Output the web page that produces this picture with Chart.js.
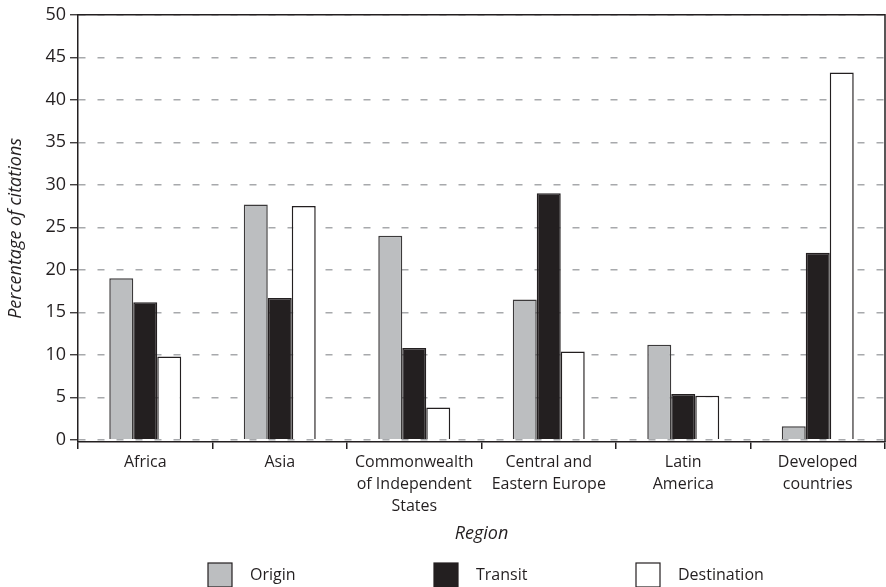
<!DOCTYPE html>
<html>
<head>
<meta charset="utf-8">
<script src="https://cdn.jsdelivr.net/npm/chart.js@4/dist/chart.umd.min.js"></script>
<style>
  html, body { margin: 0; padding: 0; background: #fff; }
  #wrap { width: 886px; height: 587px; position: relative; }
</style>
</head>
<body>
<div id="wrap"><canvas id="c" width="886" height="587"></canvas></div>
<script>
const categories = [
  'Africa',
  'Asia',
  ['Commonwealth', 'of Independent', 'States'],
  ['Central and', 'Eastern Europe'],
  ['Latin', 'America'],
  ['Developed', 'countries']
];
const origin      = [19.0, 27.7, 24.0, 16.5, 11.2, 1.6];
const transit     = [16.2, 16.7, 10.8, 29.0, 5.4, 22.0];
const destination = [9.8, 27.5, 3.8, 10.4, 5.2, 43.2];
const yTicks = [0, 5, 10, 15, 20, 25, 30, 35, 40, 45, 50];

const TEXT = '#231f20';
const FONT = "'Open Sans', 'DejaVu Sans', sans-serif";

const framePlugin = {
  id: 'frame',
  afterDraw(chart) {
    const {ctx, chartArea: a} = chart;
    ctx.save();
    ctx.strokeStyle = TEXT;
    ctx.lineWidth = 1.5;
    ctx.beginPath();
    ctx.moveTo(a.left, a.top);
    ctx.lineTo(a.right, a.top);
    ctx.lineTo(a.right, a.bottom);
    ctx.stroke();
    ctx.restore();
  }
};

const legendPlugin = {
  id: 'customLegend',
  afterDraw(chart, args, opts) {
    const ctx = chart.ctx;
    ctx.save();
    ctx.font = "16px " + FONT;
    ctx.textBaseline = 'middle';
    ctx.fillStyle = TEXT;
    chart.data.datasets.forEach((ds, i) => {
      const x = opts.xs[i];
      const y = opts.y;
      ctx.fillStyle = ds.backgroundColor;
      ctx.fillRect(x, y, opts.box, opts.box);
      ctx.strokeStyle = TEXT;
      ctx.lineWidth = 1.2;
      ctx.strokeRect(x, y, opts.box, opts.box);
      ctx.fillStyle = TEXT;
      ctx.fillText(ds.label, x + opts.box + 18, y + opts.box / 2);
    });
    ctx.restore();
  }
};

new Chart(document.getElementById('c'), {
  type: 'bar',
  data: {
    labels: categories,
    datasets: [
      { label: 'Origin', data: origin, backgroundColor: '#bcbec0', borderColor: '#3c3a3b', borderWidth: 1.5 },
      { label: 'Transit', data: transit, backgroundColor: '#231f20', borderColor: '#231f20', borderWidth: 1.5 },
      { label: 'Destination', data: destination, backgroundColor: '#ffffff', borderColor: '#231f20', borderWidth: 1.5 }
    ]
  },
  plugins: [framePlugin, legendPlugin],
  options: {
    responsive: false,
    animation: false,
    devicePixelRatio: 1,
    layout: { padding: { left: 0, right: 1, top: 11, bottom: 42 } },
    datasets: { bar: { categoryPercentage: 0.535, barPercentage: 1.0 } },
    plugins: {
      legend: { display: false },
      tooltip: { enabled: false },
      customLegend: { xs: [208, 434, 636], y: 563, box: 24 }
    },
    scales: {
      x: {
        type: 'category',
        offset: true,
        grid: { offset: true, drawOnChartArea: false, tickLength: 7, color: TEXT, lineWidth: 1.5 },
        border: { color: TEXT, width: 1.5 },
        ticks: { color: TEXT, font: { family: FONT, size: 16, lineHeight: 1.35 }, padding: 3, maxRotation: 0, autoSkip: false },
        title: { display: true, text: 'Region', color: TEXT, font: { family: FONT, size: 18, style: 'italic', lineHeight: 1.2 }, padding: { top: 0, bottom: 0 } },
        afterFit(scale) { scale.height = 103; }
      },
      y: {
        min: -0.25,
        max: 50,
        afterBuildTicks(scale) { scale.ticks = yTicks.map(v => ({ value: v })); },
        grid: { color: '#a7a9ac', lineWidth: 1.5, tickLength: 8, tickColor: TEXT, tickWidth: 1.2, tickBorderDash: [] },
        border: { color: TEXT, width: 1.5, dash: [7, 12] },
        ticks: { color: TEXT, font: { family: FONT, size: 18 }, padding: 4 },
        title: { display: true, text: 'Percentage of citations', color: TEXT, font: { family: FONT, size: 18, style: 'italic', lineHeight: 1.2 }, padding: { top: 5, bottom: 0 } },
        afterFit(scale) { scale.width = 78; }
      }
    }
  }
});
</script>
</body>
</html>
